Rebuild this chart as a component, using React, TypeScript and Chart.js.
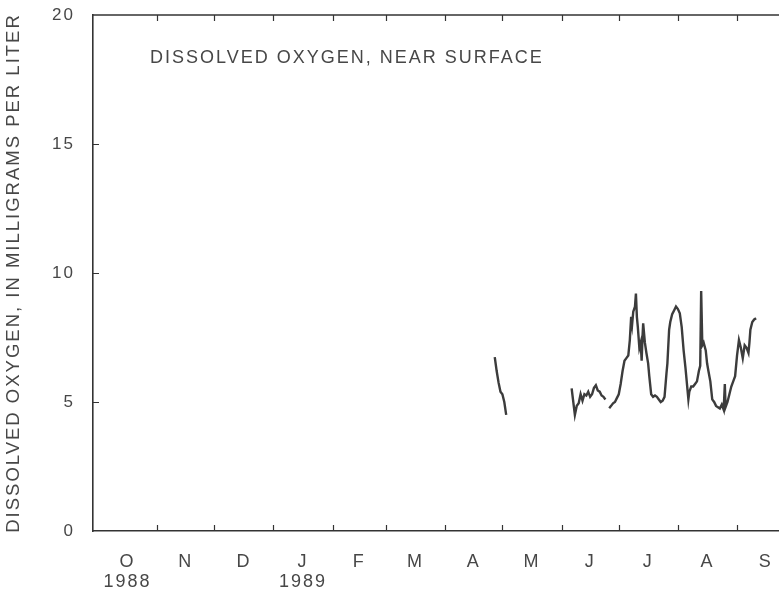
import { useEffect, useRef } from "react";
import { Chart, registerables } from "chart.js";

Chart.register(...registerables);

// Days counted from 1 October 1988 (day 0)
const monthLabels = ["O", "N", "D", "J", "F", "M", "A", "M", "J", "J", "A", "S"];
const yearLabels = ["1988", "", "", "1989", "", "", "", "", "", "", "", ""];
const monthMidDays = [15.5, 46, 76.5, 107.5, 137, 166.5, 197, 227.5, 258, 288.5, 319.5, 350];
const monthStartDays = [31, 61, 92, 123, 151, 182, 212, 243, 273, 304, 335];
const yTickValues = [5, 10, 15];
const panelTitle = "DISSOLVED OXYGEN, NEAR SURFACE";
const yAxisTitle = "DISSOLVED OXYGEN, IN MILLIGRAMS PER LITER";

const sampleDays = [
  208, 209, 210, 211, 212, 213, 214,
  230,
  248.3, 249, 250, 251, 252, 253, 254, 255, 256, 257, 258, 259, 260, 261, 262, 263, 264, 265, 266,
  267,
  268, 269, 270, 271, 272, 273, 274, 275, 276, 277, 278, 278.8, 279.5, 280, 280.6, 281.5, 282, 282.5,
  283, 283.8, 284.5, 285, 285.5, 285.8, 286.7, 287.5, 288.4, 289, 290, 291, 292, 293, 294, 295, 296,
  297, 298, 298.5, 299.4, 300, 301, 302, 303, 304, 305, 306, 307, 308, 309, 309.5, 310, 311, 312, 313,
  314, 315, 315.7, 316.2, 316.8, 317.5, 318.6, 319.3, 320, 321, 322, 323, 324, 325, 326, 327, 328,
  328.6, 329, 330, 331, 332, 333, 334, 335, 336, 337, 338, 339, 340, 341, 341.5, 342, 343, 344, 345,
];
const oxygenValues = [
  6.74, 6.2, 5.75, 5.4, 5.3, 5.0, 4.5,
  null,
  5.53, 5.1, 4.5, 4.85, 4.95, 5.3, 5.05, 5.3, 5.25, 5.4, 5.2, 5.3, 5.55, 5.65, 5.45, 5.4, 5.25, 5.2, 5.1,
  null,
  4.76, 4.85, 4.95, 5.0, 5.15, 5.3, 5.7, 6.2, 6.6, 6.7, 6.8, 7.4, 8.3, 8.0, 8.5, 8.7, 9.2, 8.3,
  7.9, 7.1, 7.3, 6.6, 7.6, 8.05, 7.3, 6.9, 6.5, 6.0, 5.3, 5.2, 5.25, 5.2, 5.1, 5.0, 5.05,
  5.2, 6.1, 6.5, 7.8, 8.1, 8.4, 8.55, 8.7, 8.6, 8.44, 7.9, 7.0, 6.3, 5.5, 5.1, 5.4, 5.6, 5.6, 5.7,
  5.8, 6.2, 6.4, 9.3, 7.2, 7.3, 7.0, 6.5, 6.2, 5.8, 5.1, 5.0, 4.85, 4.8, 4.75, 4.9, 4.7,
  5.7, 4.8, 5.0, 5.3, 5.6, 5.8, 6.0, 6.8, 7.4, 7.1, 6.7, 7.2, 7.1, 6.9, 7.3, 7.8, 8.1, 8.2, 8.25,
];

const FONT_FAMILY = '"Liberation Sans", Arial, Helvetica, sans-serif';
const TEXT_COLOR = "#474747";
const AXIS_COLOR = "#333333";

const framePlugin = {
  id: "frame",
  beforeDraw(chart: any) {
    chart.ctx.letterSpacing = "2px";
  },
  afterDraw(chart: any) {
    const { ctx, chartArea, scales } = chart;
    const { left, right, top, bottom } = chartArea;
    const x = scales.x;
    const y = scales.y;
    ctx.save();
    ctx.strokeStyle = AXIS_COLOR;
    ctx.lineWidth = 1.6;
    ctx.beginPath();
    ctx.moveTo(left, top);
    ctx.lineTo(right, top);
    ctx.stroke();
    ctx.lineWidth = 1.2;
    ctx.beginPath();
    monthStartDays.forEach((d) => {
      const px = Math.round(x.getPixelForValue(d)) + 0.5;
      ctx.moveTo(px, bottom);
      ctx.lineTo(px, bottom - 6);
      ctx.moveTo(px, top);
      ctx.lineTo(px, top + 6);
    });
    yTickValues.forEach((v) => {
      const py = Math.round(y.getPixelForValue(v)) + 0.5;
      ctx.moveTo(left, py);
      ctx.lineTo(left + 6, py);
    });
    ctx.stroke();
    ctx.font = `18px ${FONT_FAMILY}`;
    ctx.fillStyle = TEXT_COLOR;
    ctx.letterSpacing = "2px";
    ctx.textAlign = "left";
    ctx.textBaseline = "alphabetic";
    ctx.fillText(panelTitle, left + 57, top + 48);
    ctx.restore();
  },
};

export default function App() {
  const canvasRef = useRef<HTMLCanvasElement | null>(null);

  useEffect(() => {
    const canvas = canvasRef.current;
    if (!canvas) return;
    const points = sampleDays.map((d, i) => ({ x: d, y: oxygenValues[i] }));
    const chart = new Chart(canvas, {
      type: "line",
      data: {
        datasets: [
          {
            label: "Dissolved oxygen",
            data: points as any,
            borderColor: "#3c3c3c",
            borderWidth: 2.4,
            pointRadius: 0,
            tension: 0,
            spanGaps: false,
            fill: false,
          },
        ],
      },
      options: {
        animation: false,
        responsive: true,
        maintainAspectRatio: false,
        layout: { padding: { top: 15, right: 0, bottom: 0, left: 0 } },
        plugins: {
          legend: { display: false },
          tooltip: { enabled: false },
          title: { display: false },
        },
        scales: {
          x: {
            type: "linear",
            min: -2.6,
            max: 357,
            grid: { display: false },
            border: { display: true, color: AXIS_COLOR, width: 1.6 },
            afterBuildTicks: (scale: any) => {
              scale.ticks = monthMidDays.map((v) => ({ value: v }));
            },
            afterFit: (scale: any) => {
              scale.height = 58;
              scale.paddingLeft = 0;
              scale.paddingRight = 0;
            },
            ticks: {
              autoSkip: false,
              maxRotation: 0,
              minRotation: 0,
              padding: 13,
              color: TEXT_COLOR,
              font: { size: 18, family: FONT_FAMILY, lineHeight: 1.1 },
              callback: (_v: any, i: number) =>
                yearLabels[i] ? [monthLabels[i], yearLabels[i]] : monthLabels[i],
            },
          },
          y: {
            type: "linear",
            min: 0,
            max: 20,
            grid: { display: false },
            border: { display: true, color: AXIS_COLOR, width: 1.6 },
            afterFit: (scale: any) => {
              scale.width = 93;
              scale.paddingTop = 0;
              scale.paddingBottom = 0;
            },
            ticks: {
              stepSize: 5,
              padding: 10,
              color: TEXT_COLOR,
              font: { size: 17, family: FONT_FAMILY },
            },
            title: {
              display: true,
              text: yAxisTitle,
              color: TEXT_COLOR,
              padding: { top: 3, bottom: 0 },
              font: { size: 18.5, family: FONT_FAMILY },
            },
          },
        },
      },
      plugins: [framePlugin],
    });
    return () => chart.destroy();
  }, []);

  return (
    <div style={{ position: "fixed", left: 0, top: 0, width: 779, height: 589, background: "#fff" }}>
      <canvas ref={canvasRef} />
    </div>
  );
}
